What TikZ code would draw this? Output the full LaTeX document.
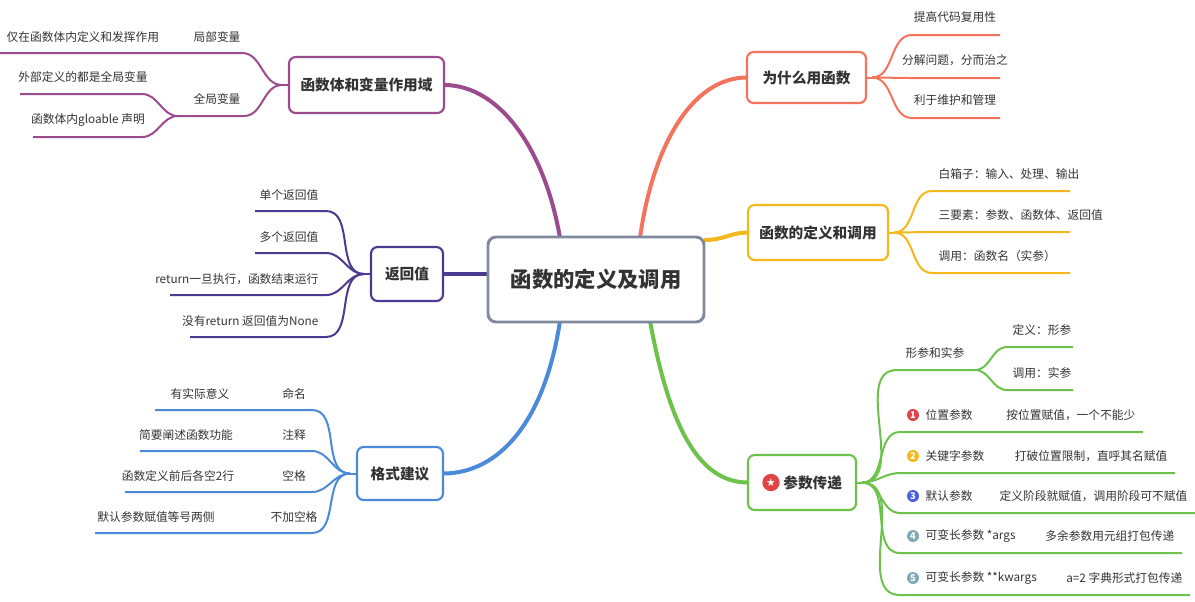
\documentclass[tikz,border=0pt]{standalone}
\usepackage{fontspec}
\setmainfont{Noto Sans CJK SC}
\newfontfamily\djv{DejaVu Sans}
\definecolor{cgray}{HTML}{7F8A9C}
\definecolor{cred}{HTML}{F4735D}
\definecolor{corg}{HTML}{F5B81C}
\definecolor{cgrn}{HTML}{6CC24A}
\definecolor{cpur}{HTML}{9B4B8E}
\definecolor{cdpu}{HTML}{4B3A8F}
\definecolor{cblu}{HTML}{4A8AD8}
\definecolor{ctxt}{HTML}{333333}
\definecolor{ired}{HTML}{E04444}
\definecolor{iblu}{HTML}{4A5FE0}
\definecolor{itea}{HTML}{7FAAB5}
\begin{document}
\begin{tikzpicture}[x=0.75pt,y=-0.75pt,
  box/.style={draw=#1,line width=1.6pt,rounded corners=5pt,fill=white,font=\fontsize{11}{13}\selectfont\bfseries,text=ctxt,inner sep=0pt},
  main/.style={draw=#1,line width=3pt},
  twig/.style={draw=#1,line width=1.5pt},
  lab/.style={font=\fontsize{8.8}{10}\selectfont,text=ctxt,inner sep=1pt},
  ic/.style={circle,fill=#1,text=white,inner sep=0pt,minimum size=9pt,font=\fontsize{7}{7}\selectfont\bfseries}]
\useasboundingbox (0,0) rectangle (1195,601);
% main connectors (drawn first)
\coordinate (c1) at (640,238);
\coordinate (c2) at (650,321);
\coordinate (c3) at (560,238);
\coordinate (c4) at (560,321);
\coordinate (wl) at (747,77.5);
\coordinate (dl) at (748,232.5);
\coordinate (pl) at (748,482.5);
\coordinate (vr) at (444,85);
\coordinate (rr) at (443,274);
\coordinate (fr) at (443,473.5);
\draw[main=cred] (c1) .. controls (652,150) and (690,77.5) .. (wl);
\draw[main=corg] (704,240) .. controls (725,240) and (730,232.5) .. (dl);
\draw[main=cgrn] (c2) .. controls (670,430) and (700,482.5) .. (pl);
\draw[main=cpur] (c3) .. controls (545,150) and (500,85) .. (vr);
\draw[main=cdpu] (488,274) -- (rr);
\draw[main=cblu] (c4) .. controls (545,420) and (500,473.5) .. (fr);
% center
\node[draw=cgray,line width=2.2pt,rounded corners=6pt,fill=white,minimum width=216*0.75pt,minimum height=85*0.75pt,font=\fontsize{16}{18}\selectfont\bfseries,text=ctxt] (C) at (596,279.5) {函数的定义及调用};
% boxes
\node[box=cred,minimum width=119*0.75pt,minimum height=51*0.75pt] (W) at (806.5,77.5) {为什么用函数};
\node[box=corg,minimum width=140*0.75pt,minimum height=55*0.75pt] (D) at (818,232.5) {函数的定义和调用};
\node[box=cgrn,minimum width=108*0.75pt,minimum height=55*0.75pt] (P) at (802,482.5) {\hspace*{16pt}参数传递};
\node[ic=ired,minimum size=13pt,font=\djv\fontsize{8}{8}\selectfont] (Pi) at (771,482.5) {★};
\node[box=cpur,minimum width=155*0.75pt,minimum height=56*0.75pt] (V) at (366.5,85) {函数体和变量作用域};
\node[box=cdpu,minimum width=72*0.75pt,minimum height=54*0.75pt] (R) at (407,274) {返回值};
\node[box=cblu,minimum width=86*0.75pt,minimum height=53*0.75pt] (F) at (400,473.5) {格式建议};
% why children
\coordinate (wj) at (872,77.5);
\draw[twig=cred] (W.east) -- (wj);
\foreach \y/\t in {35/提高代码复用性,78/分解问题，分而治之,118/利于维护和管理}{
  \coordinate (a) at (912,\y); \coordinate (b) at (1000,\y);
  \draw[twig=cred] (wj) to[out=0,in=180] (a) -- (b);
  \node[lab] at (955,\y-18) {\t};}
% def children
\coordinate (dj) at (894,232.5);
\draw[twig=corg] (D.east) -- (dj);
\foreach \y/\t in {191/白箱子：输入、处理、输出,232/三要素：参数、函数体、返回值,273/调用：函数名（实参）}{
  \coordinate (a) at (932,\y); \coordinate (b) at (1070,\y);
  \draw[twig=corg] (dj) to[out=0,in=180] (a) -- (b);
  \node[lab,anchor=west] at (937,\y-17) {\t};}
% param children
\coordinate (pj) at (862,482.5);
\draw[twig=cgrn] (P.east) -- (pj);
\coordinate (a) at (897,370); \coordinate (pk) at (975,370);
\draw[twig=cgrn] (pj) to[out=0,in=180] (a) -- (pk);
\node[lab] at (935,353) {形参和实参};
\foreach \y/\t in {347/定义：形参,390/调用：实参}{
  \coordinate (a) at (1007,\y); \coordinate (b) at (1073,\y);
  \draw[twig=cgrn] (pk) to[out=0,in=180] (a) -- (b);
  \node[lab] at (1042,\y-17) {\t};}
\foreach \y/\e/\c/\n/\l/\r in {432/1143/ired/1/位置参数/按位置赋值，一个不能少,
  473/1175/corg/2/关键字参数/打破位置限制，直呼其名赋值,
  513/1195/iblu/3/默认参数/定义阶段就赋值，调用阶段可不赋值,
  553/1182/itea/4/可变长参数 *args/多余参数用元组打包传递,
  595/1190/itea/5/可变长参数 **kwargs/a=2 字典形式打包传递}{
  \coordinate (a) at (900,\y); \coordinate (b) at (\e,\y);
  \draw[twig=cgrn] (pj) to[out=0,in=180] (a) -- (b);
  \node[ic=\c] at (913,\y-17) {\n};
  \node[lab,anchor=west] at (924,\y-17) {\l};
  \node[lab,anchor=east] at (\e-6,\y-17) {\r};}
% variable scope children
\coordinate (vj) at (282,85);
\draw[twig=cpur] (V.west) -- (vj);
\coordinate (a) at (242,53); \coordinate (b) at (0,53);
\draw[twig=cpur] (vj) to[out=180,in=0] (a) -- (b);
\node[lab] at (217,37) {局部变量};
\node[lab,anchor=west] at (5,37) {仅在函数体内定义和发挥作用};
\coordinate (a) at (244,116); \coordinate (gk) at (178,116);
\draw[twig=cpur] (vj) to[out=180,in=0] (a) -- (gk);
\node[lab] at (217,99) {全局变量};
\coordinate (a) at (142,94); \coordinate (b) at (20,94);
\draw[twig=cpur] (gk) to[out=180,in=0] (a) -- (b);
\node[lab] at (83,77) {外部定义的都是全局变量};
\coordinate (a) at (142,137); \coordinate (b) at (33,137);
\draw[twig=cpur] (gk) to[out=180,in=0] (a) -- (b);
\node[lab] at (88,120) {函数体内gloable 声明};
% return children
\coordinate (rj) at (364,274);
\draw[twig=cdpu] (R.west) -- (rj);
\foreach \y/\e/\t in {211/255/单个返回值,253/255/多个返回值,295/170/return一旦执行，函数结束运行,337/190/没有return 返回值为None}{
  \coordinate (a) at (326,\y); \coordinate (b) at (\e,\y);
  \draw[twig=cdpu] (rj) to[out=180,in=0] (a) -- (b);
  \node[lab,anchor=east] at (320,\y-16) {\t};}
% format children
\coordinate (fj) at (350,473.5);
\draw[twig=cblu] (F.west) -- (fj);
\foreach \y/\e/\t/\k/\tx in {410/155/有实际意义/命名/200,451/140/简要阐述函数功能/注释/186,492/125/函数定义前后各空2行/空格/178,533/95/默认参数赋值等号两侧/不加空格/156}{
  \coordinate (a) at (312,\y); \coordinate (b) at (\e,\y);
  \draw[twig=cblu] (fj) to[out=180,in=0] (a) -- (b);
  \node[lab] at (294,\y-16) {\k};
  \node[lab] at (\tx,\y-16) {\t};}
\end{tikzpicture}
\end{document}
